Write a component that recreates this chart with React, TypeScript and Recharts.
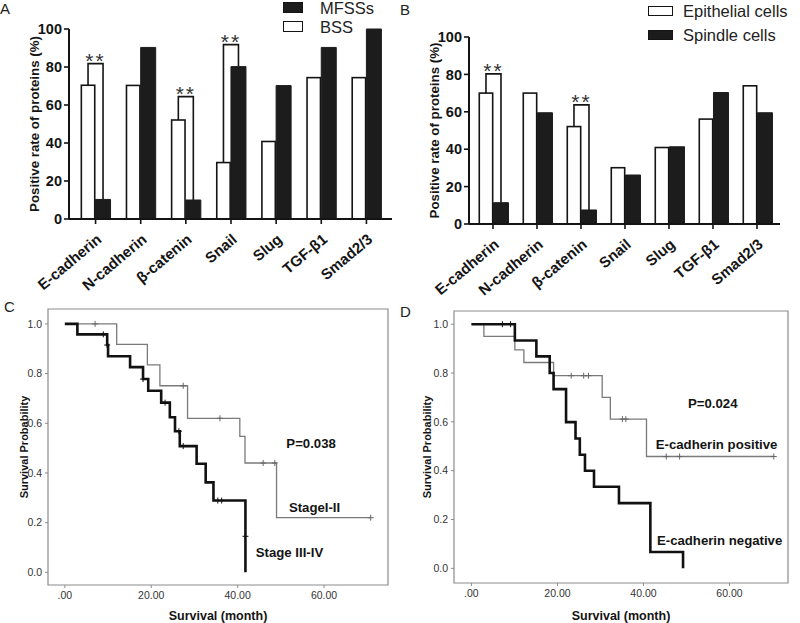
import { BarChart, Bar, XAxis, YAxis, Legend, LineChart, Line, ReferenceArea, ReferenceDot } from "recharts";

// panel A / B categories
const proteins = ["E-cadherin", "N-cadherin", "β-catenin", "Snail", "Slug", "TGF-β1", "Smad2/3"];

// A: positive rate (%) BSS vs MFSSs
const bssRate = [70.4, 70.3, 52.1, 29.7, 40.8, 74.4, 74.4];
const mfssRate = [10.3, 90.3, 10, 80.2, 70.2, 90.3, 100];
const sigA = [81.8, null, 64.4, 91.8, null, null, null];

// B: epithelial vs spindle cells
const epithelialRate = [70, 70, 52.1, 30.1, 40.9, 56.1, 73.9];
const spindleRate = [11.4, 59.5, 7.5, 26.2, 41.3, 70.3, 59.5];
const sigB = [80.3, null, 63.7, null, null, null, null];

const rateTicks = [0, 20, 40, 60, 80, 100];
const monthTicks = [0, 20, 40, 60];
const probTicks = [0, 0.2, 0.4, 0.6, 0.8, 1];

// C: Kaplan-Meier, [month, survival, censored]
const stageEarly = [
  [0, 1, 0], [7, 1, 1], [12, 0.918, 0], [19.1, 0.835, 0], [22, 0.751, 0], [27.4, 0.751, 1],
  [28.4, 0.62, 0], [35.9, 0.62, 1], [40.5, 0.547, 0], [41.7, 0.44, 0], [45.9, 0.44, 1],
  [48.6, 0.44, 1], [49, 0.22, 0], [70.8, 0.22, 1],
];
const stageLate = [
  [0, 1, 0], [2.9, 0.958, 0], [8.9, 0.958, 1], [9.8, 0.915, 1], [10, 0.87, 0], [15.1, 0.826, 0],
  [18.1, 0.778, 1], [19.3, 0.731, 0], [22.3, 0.683, 0], [23.2, 0.683, 1], [24.3, 0.624, 0],
  [25.5, 0.568, 0], [26.4, 0.568, 1], [26.6, 0.508, 0], [27.4, 0.508, 1], [30.5, 0.437, 0],
  [32.6, 0.362, 0], [34.4, 0.289, 0], [35.4, 0.289, 1], [36.3, 0.289, 1], [41.8, 0.145, 1],
  [41.8, 0, 0],
];

// D: Kaplan-Meier by E-cadherin status
const ecadPositive = [
  [0, 1, 0], [2.9, 0.95, 0], [10.1, 0.895, 0], [12.2, 0.843, 0], [19.1, 0.789, 0],
  [23.2, 0.789, 1], [26.1, 0.789, 1], [27.2, 0.789, 1], [30.4, 0.7, 0], [32.3, 0.611, 0],
  [35.1, 0.611, 1], [35.9, 0.611, 1], [40.7, 0.458, 0], [45.3, 0.458, 1], [48.4, 0.458, 1],
  [70.3, 0.458, 1],
];
const ecadNegative = [
  [0, 1, 0], [7.2, 1, 1], [9.1, 1, 1], [10.1, 0.933, 0], [15.1, 0.868, 0], [18.2, 0.8, 0],
  [19.1, 0.734, 0], [22, 0.599, 0], [24.2, 0.532, 0], [25.2, 0.465, 0], [26.4, 0.4, 0],
  [28.5, 0.334, 0], [34.3, 0.267, 0], [41.6, 0.067, 0], [49.2, 0, 0],
];

const notesC = [
  { text: "P=0.038", t: 57, s: 0.52 },
  { text: "StageI-II", t: 57.8, s: 0.26 },
  { text: "Stage III-IV", t: 52, s: 0.078 },
];
const notesD = [
  { text: "P=0.024", t: 56.1, s: 0.677 },
  { text: "E-cadherin positive", t: 57, s: 0.506 },
  { text: "E-cadherin negative", t: 57.7, s: 0.115 },
];

const FONT = '"Liberation Sans", Arial, sans-serif';
const INK = "#141414";

const toRows = (list: number[][]) => list.map(([t, s, c]) => ({ t, s, c }));

function SlantTick({ x, y, payload }: any) {
  const ax = x + 7;
  const ay = y + 15;
  return (
    <text x={ax} y={ay} transform={`rotate(-40 ${ax} ${ay})`} textAnchor="end" fontSize={15} fontWeight="bold" fill={INK}>
      {payload.value}
    </text>
  );
}

function SideLabel({ viewBox, text, x, size }: any) {
  const cy = viewBox.y + viewBox.height / 2;
  return (
    <text x={x} y={cy} transform={`rotate(-90 ${x} ${cy})`} textAnchor="middle" dominantBaseline="central" fontSize={size} fontWeight="bold" fill={INK}>
      {text}
    </text>
  );
}

// white bar plus optional significance bracket to the neighbouring dark bar
const openBar = (key: string, otherKey: string) => (props: any) => {
  const { x, y, width, height, payload } = props;
  const unit = height / payload[key];
  const base = y + height;
  const sig = payload.sig;
  let bracket = null;
  if (sig != null) {
    const yb = base - sig * unit;
    const yo = base - payload[otherKey] * unit;
    const x1 = x + width / 2;
    const x2 = x + width * 1.5;
    bracket = (
      <g>
        <path d={`M${x1},${y}V${yb}H${x2}V${yo}`} fill="none" stroke={INK} strokeWidth={1.6} />
        <text x={(x1 + x2) / 2} y={yb + 4} textAnchor="middle" fontSize={21} letterSpacing={2} fill="#333">**</text>
      </g>
    );
  }
  return (
    <g>
      <rect x={x + 0.8} y={y} width={width - 1.6} height={height} fill="#fff" stroke={INK} strokeWidth={1.6} />
      {bracket}
    </g>
  );
};

function LegendList({ payload, order, box, gap, row }: any) {
  const items = order.map((n: string) => (payload || []).find((p: any) => p.value === n)).filter(Boolean);
  return (
    <div>
      {items.map((it: any) => (
        <div key={it.value} style={{ display: "flex", alignItems: "center", height: row }}>
          <span style={{ width: box[0], height: box[1], boxSizing: "border-box", background: it.color, border: `1.6px solid ${INK}` }} />
          <span style={{ marginLeft: gap, fontSize: 16.5, lineHeight: "14px", color: "#222", whiteSpace: "nowrap" }}>{it.value}</span>
        </div>
      ))}
    </div>
  );
}

function ProteinPanel(props: any) {
  const { data, names, legendOrder, legendPos, box, gap, row, axisW, top, right, xh, pad, catGap } = props;
  return (
    <BarChart width={400} height={300} data={data} margin={{ top, right, left: 0, bottom: 0 }} barCategoryGap={catGap} barGap={0}>
      <XAxis dataKey="name" height={xh} padding={pad} interval={0} tick={<SlantTick />} tickSize={5} axisLine={{ stroke: INK, strokeWidth: 2 }} tickLine={{ stroke: INK, strokeWidth: 1.6 }} />
      <YAxis
        domain={[0, 100]}
        ticks={rateTicks}
        width={axisW}
        tickSize={5}
        tickMargin={2}
        axisLine={{ stroke: INK, strokeWidth: 2 }}
        tickLine={{ stroke: INK, strokeWidth: 1.6 }}
        tick={{ fontSize: 14.5, fontWeight: "bold", fill: INK }}
        label={<SideLabel text="Positive rate of proteins (%)" x={26} size={13.3} />}
      />
      <Legend
        layout="vertical"
        align="center"
        verticalAlign="middle"
        wrapperStyle={{ left: legendPos[0], top: legendPos[1], width: 140, height: 2 * row }}
        content={<LegendList order={legendOrder} box={box} gap={gap} row={row} />}
      />
      <Bar dataKey="a" name={names[0]} fill="#ffffff" shape={openBar("a", "b")} isAnimationActive={false} />
      <Bar dataKey="b" name={names[1]} fill="#1c1c1c" stroke="#1c1c1c" isAnimationActive={false} />
    </BarChart>
  );
}

const censorDot = (color: string) => (p: any) => {
  const { cx, cy, payload, index } = p;
  if (!payload || !payload.c) return <g key={`n${index}`} />;
  return <path key={`c${index}`} d={`M${cx - 3},${cy}H${cx + 3}M${cx},${cy - 3}V${cy + 3}`} stroke={color} strokeWidth={1} />;
};

function SurvivalPanel(props: any) {
  const { thin, thick, notes, xDom, yDom, margin, axisW, xh, yLabX } = props;
  const frame = "#8c8c8c";
  return (
    <LineChart width={400} height={333} margin={margin}>
      <XAxis
        type="number"
        dataKey="t"
        domain={xDom}
        ticks={monthTicks}
        allowDataOverflow
        height={xh}
        axisLine={false}
        tickLine={{ stroke: frame }}
        tickSize={3}
        tickMargin={4}
        tick={{ fontSize: 10.5, fill: "#333" }}
        tickFormatter={(v: number) => (v === 0 ? ".00" : v.toFixed(2))}
        label={{ value: "Survival (month)", position: "insideBottom", offset: 3, fontSize: 12.5, fontWeight: "bold", fill: INK }}
      />
      <YAxis
        type="number"
        domain={yDom}
        ticks={probTicks}
        allowDataOverflow
        width={axisW}
        axisLine={false}
        tickLine={{ stroke: frame }}
        tickSize={3}
        tickMargin={3}
        tick={{ fontSize: 10.5, fill: "#333" }}
        tickFormatter={(v: number) => v.toFixed(1)}
        label={<SideLabel text="Survival Probability" x={yLabX} size={11} />}
      />
      <ReferenceArea x1={xDom[0]} x2={xDom[1]} y1={yDom[0]} y2={yDom[1]} fill="none" stroke={frame} strokeWidth={1.2} />
      <Line data={toRows(thin)} dataKey="s" type="stepAfter" stroke="#7a7a7a" strokeWidth={1.3} dot={censorDot("#666")} activeDot={false} isAnimationActive={false} />
      <Line data={toRows(thick)} dataKey="s" type="stepAfter" stroke="#111" strokeWidth={2.6} dot={censorDot("#111")} activeDot={false} isAnimationActive={false} />
      {notes.map((n: any) => (
        <ReferenceDot
          key={n.text}
          x={n.t}
          y={n.s}
          r={0}
          shape={(p: any) => (
            <text x={p.cx} y={p.cy} textAnchor="middle" dominantBaseline="central" fontSize={13.2} fontWeight="bold" fill={INK}>
              {n.text}
            </text>
          )}
        />
      ))}
    </LineChart>
  );
}

const letter = (ch: string, left: number, top: number) => (
  <div style={{ position: "absolute", left, top, fontSize: 15, color: "#222", lineHeight: "15px" }}>{ch}</div>
);

export default function App() {
  const dataA = proteins.map((name, i) => ({ name, a: bssRate[i], b: mfssRate[i], sig: sigA[i] }));
  const dataB = proteins.map((name, i) => ({ name, a: epithelialRate[i], b: spindleRate[i], sig: sigB[i] }));

  return (
    <div style={{ position: "absolute", left: 0, top: 0, width: 800, height: 623, background: "#fff", fontFamily: FONT, overflow: "hidden" }}>
      <div style={{ position: "absolute", left: 0, top: 0 }}>
        <ProteinPanel
          data={dataA}
          names={["BSS", "MFSSs"]}
          legendOrder={["MFSSs", "BSS"]}
          legendPos={[283, -2]}
          box={[20, 11]}
          gap={17}
          row={19}
          axisW={69}
          top={29}
          right={8}
          xh={81}
          pad={{ left: 4, right: 3 }}
          catGap="16.7%"
        />
      </div>
      <div style={{ position: "absolute", left: 400, top: 0 }}>
        <ProteinPanel
          data={dataB}
          names={["Epithelial cells", "Spindle cells"]}
          legendOrder={["Epithelial cells", "Spindle cells"]}
          legendPos={[248, -1.5]}
          box={[25, 10]}
          gap={10}
          row={24.6}
          axisW={69}
          top={37}
          right={20}
          xh={76}
          pad={{ left: 2, right: 1 }}
          catGap="17%"
        />
      </div>
      <div style={{ position: "absolute", left: 0, top: 290 }}>
        <SurvivalPanel
          thin={stageEarly}
          thick={stageLate}
          notes={notesC}
          xDom={[-3.9, 74.8]}
          yDom={[-0.051, 1.06]}
          margin={{ top: 19, right: 12, left: 0, bottom: 0 }}
          axisW={48}
          xh={38}
          yLabX={10}
        />
      </div>
      <div style={{ position: "absolute", left: 400, top: 290 }}>
        <SurvivalPanel
          thin={ecadPositive}
          thick={ecadNegative}
          notes={notesD}
          xDom={[-4.05, 73.6]}
          yDom={[-0.06, 1.054]}
          margin={{ top: 21, right: 12, left: 0, bottom: 0 }}
          axisW={54}
          xh={40}
          yLabX={16.5}
        />
      </div>
      {letter("A", 0, 1)}
      {letter("B", 400, 2)}
      {letter("C", 4, 299)}
      {letter("D", 400, 304)}
    </div>
  );
}
